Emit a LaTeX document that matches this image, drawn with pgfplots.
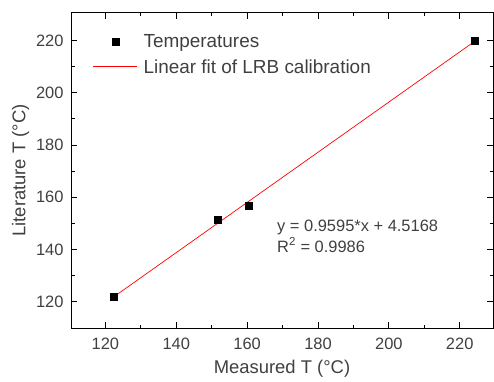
\documentclass[border=0pt]{standalone}
\usepackage{pgfplots}
\pgfplotsset{compat=1.18}
\usepackage{fontspec}
\setmainfont{Liberation Sans}
\definecolor{txt}{HTML}{404040}
\pgfplotsset{
  marklegend/.style={legend image code/.code={\draw[##1, mark repeat=2, mark phase=2] plot coordinates {(0bp,0bp)(22bp,0bp)(44bp,0bp)}; \path (48bp,0bp);}},
  linelegend/.style={legend image code/.code={\draw[##1, draw=red, line width=0.9pt] (0bp,0bp) -- (44bp,0bp); \path (48bp,0bp);}},
}
\begin{document}
\begin{tikzpicture}[x=1bp,y=1bp]
\useasboundingbox (0,0) rectangle (494,381);
\begin{axis}[
  at={(71bp,53bp)}, anchor=south west,
  scale only axis, width=422bp, height=315bp,
  xmin=110.3, xmax=229.4, ymin=110, ymax=230.5,
  xtick={120,140,...,220}, ytick={120,140,...,220},
  minor x tick num=1, minor y tick num=1,
  tick align=inside, major tick length=6bp, minor tick length=3.5bp,
  tick style={black, line width=0.8pt},
  axis line style={black, line width=1pt},
  tick label style={font=\fontsize{16.5}{19}\selectfont\color{txt}},
  yticklabel style={xshift=-4bp},
  xticklabel style={yshift=-6bp},
  label style={font=\fontsize{18.5}{22}\selectfont\color{txt}},
  /pgf/number format/assume math mode=true,
  xlabel={Measured T (\textdegree C)},
  ylabel={Literature T (\textdegree C)},
  xlabel style={yshift=-4bp},
  ylabel style={yshift=0bp},
  legend style={draw=none, fill=none, at={(0.044,0.944)}, anchor=north west,
    font=\fontsize{19}{22}\selectfont\color{txt}, row sep=6bp},
  legend cell align=left,
]
\addplot[only marks, mark=square*, mark size=3.5bp, black, marklegend] coordinates {
  (122.3,121.8) (151.6,151.3) (160.4,156.7) (224.2,220.0)};
\addlegendentry{Temperatures}
\addplot[red, line width=0.7pt, linelegend] coordinates {(122.3,121.86) (224.2,219.64)};
\addlegendentry{Linear fit of LRB calibration}
\node[anchor=west, font=\fontsize{16.5}{18}\selectfont\color{txt}, align=left] at (axis cs:167.5,148.6) {y = 0.9595*x + 4.5168};
\node[anchor=west, font=\fontsize{16.5}{18}\selectfont\color{txt}, align=left] at (axis cs:167.5,141.7) {R\textsuperscript{2} = 0.9986};
\end{axis}
\end{tikzpicture}
\end{document}
